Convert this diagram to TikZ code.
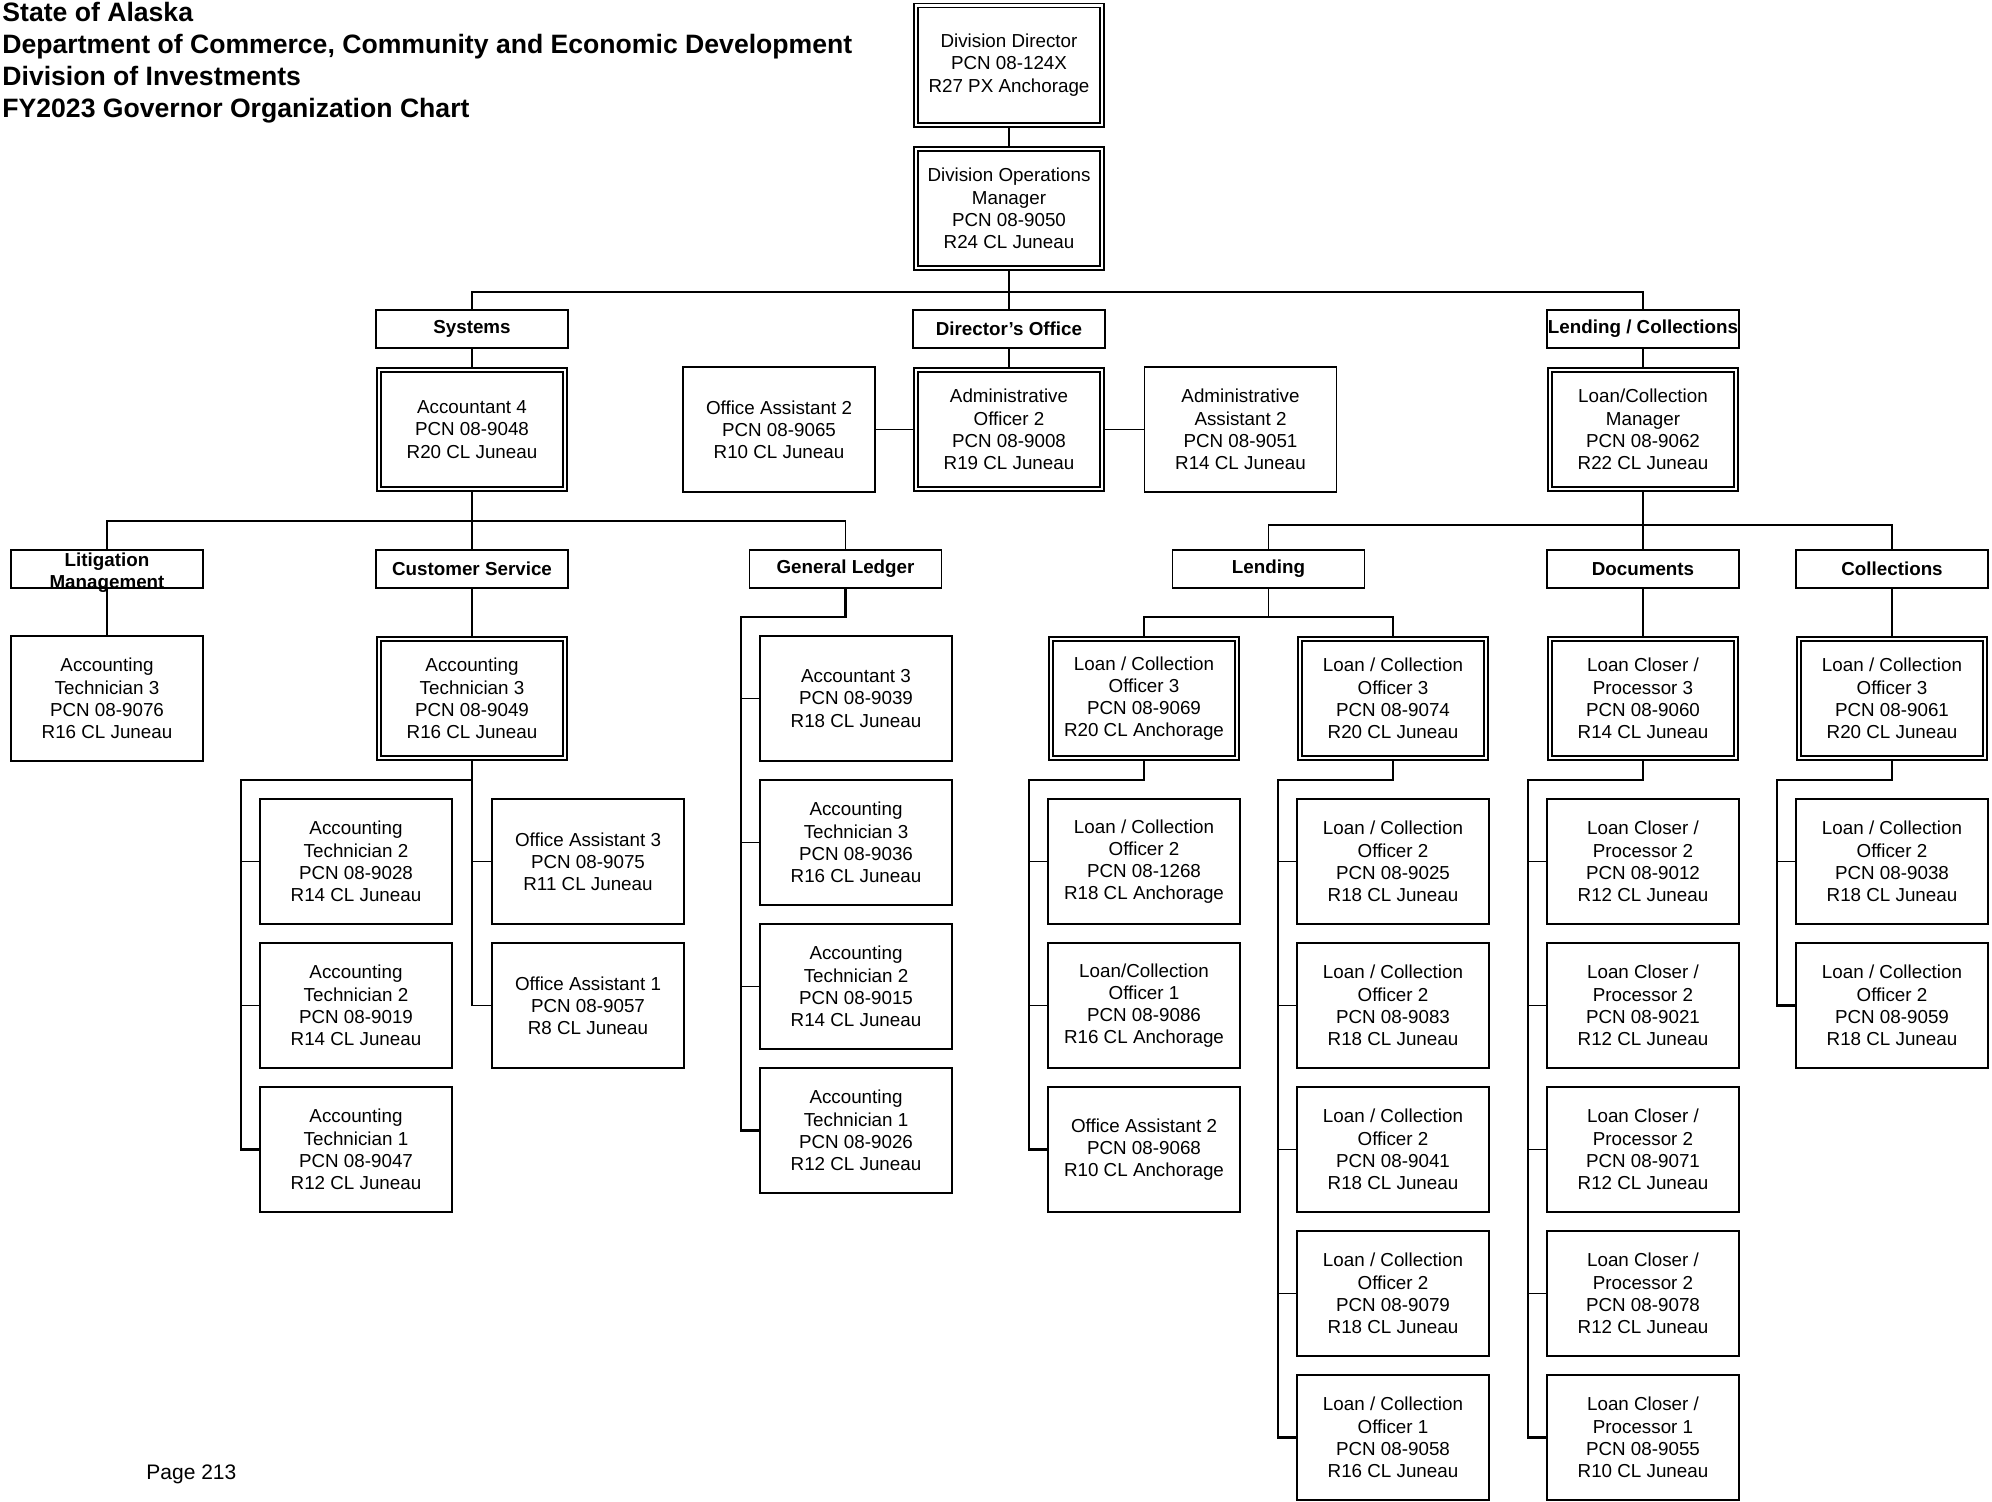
\documentclass[tikz,border=0pt]{standalone}
\usepackage{fontspec}
\setmainfont{Liberation Sans}
\usetikzlibrary{positioning}

\begin{document}
\begin{tikzpicture}[x=0.5pt, y=-0.5pt,
  post/.style={draw, line width=0.8pt, minimum width=96pt, minimum height=62.5pt,
    inner sep=0pt, align=center, font=\fontsize{9.4}{11.1}\selectfont},
  lead/.style={post, double, double distance=1.2pt, outer sep=1.4pt,
    minimum width=93.2pt, minimum height=59.7pt},
  head/.style={post, minimum height=19pt, font=\bfseries\fontsize{9.4}{11.1}\selectfont},
  link/.style={line width=0.8pt},
  trunk/.style={line width=1.3pt}]
\useasboundingbox (0,0) rectangle (1992,1501);

% title
\node[anchor=north west, inner sep=0pt, align=left,
  font=\bfseries\fontsize{13.3}{15.9}\selectfont] (title) at (2,2)
  {State of Alaska\\Department of Commerce, Community and Economic Development\\
   Division of Investments\\FY2023 Governor Organization Chart};
\node[anchor=west, inner sep=0pt, font=\fontsize{10.5}{12}\selectfont] (page) at (146,1474) {Page 213};

% top
\node[lead] (dd) at (1009,65) {Division Director\\PCN 08-124X\\R27 PX Anchorage};
\node[lead] (dom) at (1009,208.5) {Division Operations\\Manager\\PCN 08-9050\\R24 CL Juneau};

% sections
\node[head] (hsys) at (472,329) {Systems};
\node[head] (hdir) at (1009,329) {Director's Office};
\node[head] (hlc) at (1643,329) {Lending / Collections};

\node[lead] (acc4) at (472,429.5) {Accountant 4\\PCN 08-9048\\R20 CL Juneau};
\node[post] (oa2) at (779,429.5) {Office Assistant 2\\PCN 08-9065\\R10 CL Juneau};
\node[lead] (ao2) at (1009,429.5) {Administrative\\Officer 2\\PCN 08-9008\\R19 CL Juneau};
\node[post] (aa2) at (1240.5,429.5) {Administrative\\Assistant 2\\PCN 08-9051\\R14 CL Juneau};
\node[lead] (lcm) at (1643,429.5) {Loan/Collection\\Manager\\PCN 08-9062\\R22 CL Juneau};

% units
\node[head] (hlit) at (107,569)
  {\smash{\raisebox{-4.2pt}{\begin{tabular}{@{}c@{}}Litigation\\Management\end{tabular}}}};
\node[head] (hcs) at (472,569) {Customer Service};
\node[head] (hgl) at (845.5,569) {General Ledger};
\node[head] (hlend) at (1268.5,569) {Lending};
\node[head] (hdoc) at (1643,569) {Documents};
\node[head] (hcol) at (1892,569) {Collections};

% first row
\node[post] (at9076) at (107,698.5) {Accounting\\Technician 3\\PCN 08-9076\\R16 CL Juneau};
\node[lead] (at9049) at (472,698.5) {Accounting\\Technician 3\\PCN 08-9049\\R16 CL Juneau};
\node[post] (gl9039) at (856,698.5) {Accountant 3\\PCN 08-9039\\R18 CL Juneau};
\node[lead] (lco9069) at (1144,698.5) {Loan / Collection\\Officer 3\\PCN 08-9069\\R20 CL Anchorage};
\node[lead] (lco9074) at (1393,698.5) {Loan / Collection\\Officer 3\\PCN 08-9074\\R20 CL Juneau};
\node[lead] (lcp9060) at (1643,698.5) {Loan Closer /\\Processor 3\\PCN 08-9060\\R14 CL Juneau};
\node[lead] (lco9061) at (1892,698.5) {Loan / Collection\\Officer 3\\PCN 08-9061\\R20 CL Juneau};

% customer service staff
\node[post] (at9028) at (356,861.5) {Accounting\\Technician 2\\PCN 08-9028\\R14 CL Juneau};
\node[post] (at9019) at (356,1005.5) {Accounting\\Technician 2\\PCN 08-9019\\R14 CL Juneau};
\node[post] (at9047) at (356,1149.5) {Accounting\\Technician 1\\PCN 08-9047\\R12 CL Juneau};
\node[post] (oa9075) at (588,861.5) {Office Assistant 3\\PCN 08-9075\\R11 CL Juneau};
\node[post] (oa9057) at (588,1005.5) {Office Assistant 1\\PCN 08-9057\\R8 CL Juneau};

% general ledger staff
\node[post] (gl9036) at (856,842.5) {Accounting\\Technician 3\\PCN 08-9036\\R16 CL Juneau};
\node[post] (gl9015) at (856,986.5) {Accounting\\Technician 2\\PCN 08-9015\\R14 CL Juneau};
\node[post] (gl9026) at (856,1130.5) {Accounting\\Technician 1\\PCN 08-9026\\R12 CL Juneau};

% lending staff
\node[post] (lco1268) at (1144,861.5) {Loan / Collection\\Officer 2\\PCN 08-1268\\R18 CL Anchorage};
\node[post] (lco9086) at (1144,1005.5) {Loan/Collection\\Officer 1\\PCN 08-9086\\R16 CL Anchorage};
\node[post] (oa9068) at (1144,1149.5) {Office Assistant 2\\PCN 08-9068\\R10 CL Anchorage};
\node[post] (lco9025) at (1393,861.5) {Loan / Collection\\Officer 2\\PCN 08-9025\\R18 CL Juneau};
\node[post] (lco9083) at (1393,1005.5) {Loan / Collection\\Officer 2\\PCN 08-9083\\R18 CL Juneau};
\node[post] (lco9041) at (1393,1149.5) {Loan / Collection\\Officer 2\\PCN 08-9041\\R18 CL Juneau};
\node[post] (lco9079) at (1393,1293.5) {Loan / Collection\\Officer 2\\PCN 08-9079\\R18 CL Juneau};
\node[post] (lco9058) at (1393,1437.5) {Loan / Collection\\Officer 1\\PCN 08-9058\\R16 CL Juneau};

% documents staff
\node[post] (lcp9012) at (1643,861.5) {Loan Closer /\\Processor 2\\PCN 08-9012\\R12 CL Juneau};
\node[post] (lcp9021) at (1643,1005.5) {Loan Closer /\\Processor 2\\PCN 08-9021\\R12 CL Juneau};
\node[post] (lcp9071) at (1643,1149.5) {Loan Closer /\\Processor 2\\PCN 08-9071\\R12 CL Juneau};
\node[post] (lcp9078) at (1643,1293.5) {Loan Closer /\\Processor 2\\PCN 08-9078\\R12 CL Juneau};
\node[post] (lcp9055) at (1643,1437.5) {Loan Closer /\\Processor 1\\PCN 08-9055\\R10 CL Juneau};

% collections staff
\node[post] (lco9038) at (1892,861.5) {Loan / Collection\\Officer 2\\PCN 08-9038\\R18 CL Juneau};
\node[post] (lco9059) at (1892,1005.5) {Loan / Collection\\Officer 2\\PCN 08-9059\\R18 CL Juneau};

% bars
\coordinate (topbar) at (1009,292);
\coordinate (sysbar) at (472,521);
\coordinate (lcbar) at (1643,525);
\coordinate (lendbar) at (1268.5,617);
\coordinate (glsp) at (741,617);
\coordinate (cssp) at (241,780);
\coordinate (lasp) at (1029,780);
\coordinate (lbsp) at (1278,780);
\coordinate (docsp) at (1528,780);
\coordinate (colsp) at (1777,780);

\draw[link] (dd) -- (dom);
\draw[link] (dom) -- (topbar);
\draw[link] (hsys) |- (topbar) -| (hlc);
\draw[link] (topbar) -- (hdir);
\draw[link] (hsys) -- (acc4);
\draw[link] (hdir) -- (ao2);
\draw[link] (hlc) -- (lcm);
\draw[link] (oa2) -- (ao2) -- (aa2);

\draw[trunk] (acc4) -- (sysbar);
\draw[link] (hlit) |- (sysbar) -| (hgl);
\draw[link] (sysbar) -- (hcs);
\draw[link] (hlit) -- (at9076);
\draw[link] (hcs) -- (at9049);

\draw[trunk] (lcm) -- (lcbar);
\draw[link] (hlend) |- (lcbar) -| (hcol);
\draw[link] (lcbar) -- (hdoc);
\draw[link] (hdoc) -- (lcp9060);
\draw[link] (hcol) -- (lco9061);
\draw[link] (hlend) -- (lendbar);
\draw[link] (lco9069) |- (lendbar) -| (lco9074);

% general ledger
\draw[trunk] (hgl) |- (glsp) |- (gl9026);
\draw[link] (glsp |- gl9039) -- (gl9039);
\draw[link] (glsp |- gl9036) -- (gl9036);
\draw[link] (glsp |- gl9015) -- (gl9015);

% customer service
\draw[trunk] (at9049) |- (cssp) |- (at9047);
\draw[link] (cssp |- at9028) -- (at9028);
\draw[link] (cssp |- at9019) -- (at9019);
\draw[link] (at9049) |- (oa9057);
\draw[link] (at9049.south |- oa9075) -- (oa9075);

% lending
\draw[trunk] (lco9069) |- (lasp) |- (oa9068);
\draw[link] (lasp |- lco1268) -- (lco1268);
\draw[link] (lasp |- lco9086) -- (lco9086);
\draw[trunk] (lco9074) |- (lbsp) |- (lco9058);
\draw[link] (lbsp |- lco9025) -- (lco9025);
\draw[link] (lbsp |- lco9083) -- (lco9083);
\draw[link] (lbsp |- lco9041) -- (lco9041);
\draw[link] (lbsp |- lco9079) -- (lco9079);

% documents
\draw[trunk] (lcp9060) |- (docsp) |- (lcp9055);
\draw[link] (docsp |- lcp9012) -- (lcp9012);
\draw[link] (docsp |- lcp9021) -- (lcp9021);
\draw[link] (docsp |- lcp9071) -- (lcp9071);
\draw[link] (docsp |- lcp9078) -- (lcp9078);

% collections
\draw[trunk] (lco9061) |- (colsp) |- (lco9059);
\draw[link] (colsp |- lco9038) -- (lco9038);
\end{tikzpicture}
\end{document}
